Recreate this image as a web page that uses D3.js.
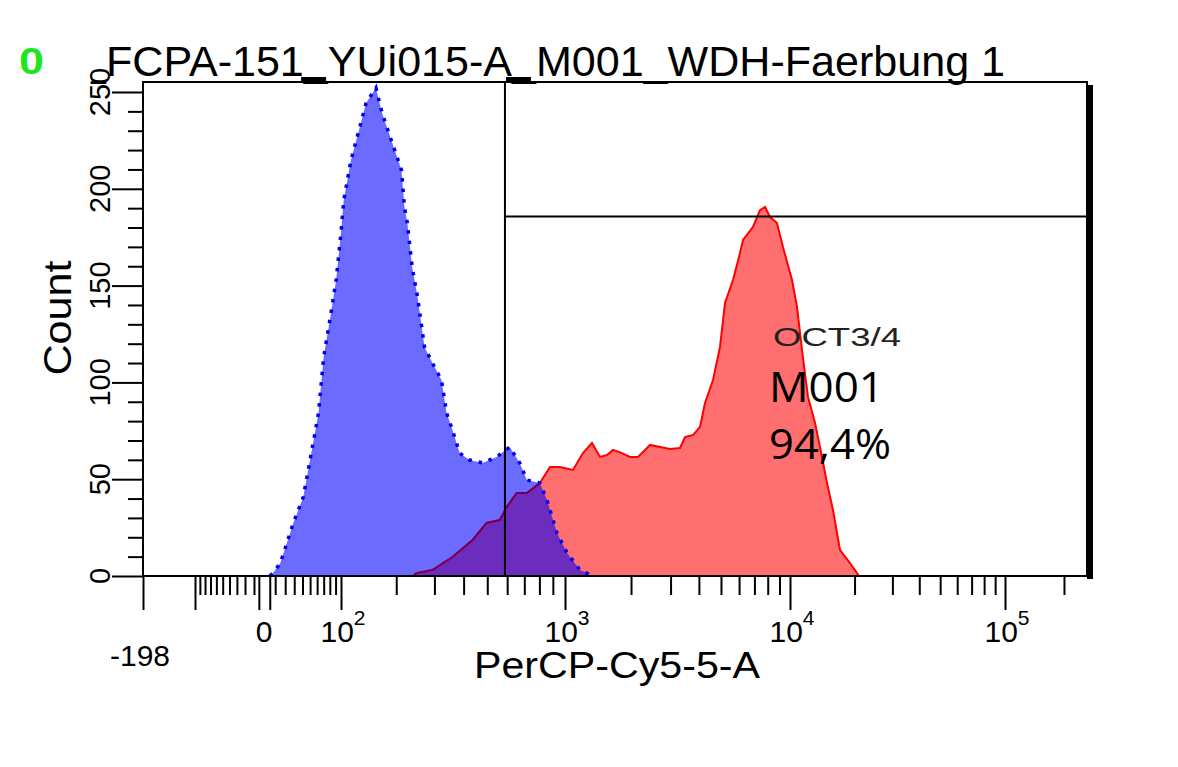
<!DOCTYPE html>
<html><head><meta charset="utf-8">
<script src="https://cdn.jsdelivr.net/npm/d3@7"></script>
<style>body{margin:0;background:#fff;} text{font-family:"Liberation Sans",Arial,sans-serif;}</style>
</head><body>
<svg id="c" width="1178" height="767"></svg>
<script>
// ---- data ----
const titlePrefix = "_";
const title = "FCPA-151_YUi015-A_M001_WDH-Faerbung 1";
const statusMark = "0";
const xLabel = "PerCP-Cy5-5-A";
const yLabel = "Count";
// unstained / isotype histogram (blue): fluorescence value, count
const blueX = [5, 8, 15, 29, 41, 55, 62, 70, 82, 91, 100, 104, 115, 128, 140, 158, 170, 189, 212, 219, 226, 238, 252, 271, 294, 322, 339, 359, 385, 423, 479, 545, 614, 672, 716, 803, 855, 933, 1022, 1173, 1264, 1300];
const blueY = [0, 1.5, 6.7, 27.4, 40.8, 70.2, 84.2, 113.1, 135.8, 152.9, 177.2, 194.2, 214.9, 230.4, 244.3, 252.1, 239.2, 225.2, 209.7, 190.6, 182.3, 159.6, 144.1, 118.3, 110, 101.2, 84.2, 75.4, 63.5, 59.9, 58.4, 61.5, 66.6, 58.4, 49.6, 48, 39.3, 22.2, 11.9, 3.1, 1.5, 0];
// OCT3/4 stained histogram (red)
const redX = [240, 249, 294, 359, 436, 497, 561, 598, 654, 716, 803, 878, 957, 1089, 1211, 1332, 1449, 1559, 1659, 1822, 1979, 2149, 2310, 2431, 2694, 2983, 3303, 3474, 3769, 4045, 4255, 4614, 4951, 5207, 5644, 6056, 6242, 6902, 7404, 7785, 8186, 8779, 9320, 10219, 10784, 11378, 12135, 13088, 14107, 14883, 15873, 17113, 19050, 20530, 21000];
const redY = [0, 1.5, 3.1, 9.8, 18.6, 27.4, 28.9, 35.6, 42.9, 42.9, 48, 56.3, 56.3, 54.8, 63.5, 68.7, 61.5, 62.5, 65.1, 63.5, 61.5, 61.5, 65.1, 67.7, 66.6, 65.6, 66.1, 71.8, 72.8, 77, 89.4, 101.2, 118.3, 141, 152.9, 166.8, 173.6, 180.3, 189, 190.6, 185.4, 182.3, 169.9, 152.9, 139, 116.7, 92.5, 79, 61.5, 48, 34.1, 13.4, 6.7, 1.5, 0];
// axes
const yTickValues = [0, 50, 100, 150, 200, 250];
const yMinorValues = d3.range(0, 251, 10);
const xDomainEnds = [-198, 262144];
const xLongTicks = [-198, -100, -5, 5, 100, 1000, 10000, 100000];
const xDecades = [100, 1000, 10000, 100000];
const xDecadeExp = ["2", "3", "4", "5"];
const xPlainLabels = [{v: -198, t: "-198"}, {v: 0, t: "0"}];
// marker M001
const gateFrom = 588, gateTo = 262144, gateCount = 185.7;
const handleValues = [37, 588];
const markerLines = ["OCT3/4", "M001", "94,4%"];

// ---- scales ----
const svg = d3.select("#c");
const F = {left: 143, top: 82, right: 1087, bottom: 576};
const sym = d3.scaleSymlog().constant(80).domain([0, 80 * (Math.E - 1)]).range([0, 1]);
const xAnchors = [xDomainEnds[0], -100, 0, 100, 1000, 10000, 100000, xDomainEnds[1]];
const xLin = d3.scaleLinear().domain(xAnchors.map(v => sym(v))).range([143, 195, 264, 341, 565, 790, 1005, 1087]);
const x = v => xLin(sym(v));
const y = d3.scaleLinear().domain([0, 250]).range([576, 92]);

const blue = blueX.map((v, i) => [v, blueY[i]]);
const red = redX.map((v, i) => [v, redY[i]]);
const area = d3.area().x(d => x(d[0])).y0(y(0)).y1(d => y(d[1]));
const line = d3.line().x(d => x(d[0])).y(d => y(d[1]));

const defs = svg.append("defs");
defs.append("clipPath").attr("id", "blueClip").append("path").attr("d", area(blue));
defs.append("clipPath").attr("id", "frameClip").append("rect")
  .attr("x", F.left).attr("y", F.top).attr("width", F.right - F.left).attr("height", F.bottom - F.top);

const plot = svg.append("g").attr("clip-path", "url(#frameClip)");
plot.append("path").attr("d", area(blue)).attr("fill", "#6b6bff");
plot.append("path").attr("d", area(red)).attr("fill", "#ff6f6f");
plot.append("path").attr("d", area(red)).attr("fill", "#6c2dbf").attr("clip-path", "url(#blueClip)");
plot.append("path").attr("d", line(red)).attr("fill", "none").attr("stroke", "#ff0000").attr("stroke-width", 2);
plot.append("path").attr("d", line(red)).attr("fill", "none").attr("stroke", "#6a006a").attr("stroke-width", 2).attr("clip-path", "url(#blueClip)");
plot.append("path").attr("d", line(blue)).attr("fill", "none").attr("stroke", "#0000ee")
  .attr("stroke-width", 3.5).attr("stroke-dasharray", "3.5,7");

// gate lines
svg.append("line").attr("x1", x(gateFrom)).attr("x2", x(gateFrom)).attr("y1", F.top).attr("y2", F.bottom)
  .attr("stroke", "#000").attr("stroke-width", 2);
svg.append("line").attr("x1", x(gateFrom)).attr("x2", x(gateTo)).attr("y1", y(gateCount)).attr("y2", y(gateCount))
  .attr("stroke", "#000").attr("stroke-width", 2);
svg.selectAll(".handle").data(handleValues).enter().append("rect")
  .attr("x", d => x(d) + 1).attr("y", F.top - 5).attr("width", 25).attr("height", 5).attr("fill", "#000");

// frame
svg.append("rect").attr("x", F.left).attr("y", F.top).attr("width", F.right - F.left).attr("height", F.bottom - F.top)
  .attr("fill", "none").attr("stroke", "#000").attr("stroke-width", 2);
svg.append("rect").attr("x", F.right).attr("y", F.top + 3).attr("width", 6).attr("height", F.bottom - F.top)
  .attr("fill", "#000");

// y axis
const yMinorG = svg.append("g").attr("transform", `translate(${F.left},0)`)
  .call(d3.axisLeft(y).tickValues(yMinorValues.filter(v => v % 50 !== 0)).tickSize(15).tickFormat(""));
const yMajorG = svg.append("g").attr("transform", `translate(${F.left},0)`)
  .call(d3.axisLeft(y).tickValues(yTickValues).tickSize(31).tickFormat(""));
[yMinorG, yMajorG].forEach(g => { g.select(".domain").remove(); g.selectAll("line").attr("stroke-width", 2); });
svg.selectAll(".ylab").data(yTickValues).enter().append("text")
  .attr("transform", d => `translate(110,${y(d)}) rotate(-90)`)
  .attr("text-anchor", "middle").attr("font-size", 29).attr("fill", "#000").text(d => d);
svg.append("text").attr("transform", "translate(71,318) rotate(-90)").attr("text-anchor", "middle")
  .attr("font-size", 38).attr("textLength", 115).attr("lengthAdjust", "spacingAndGlyphs").text(yLabel);

// x axis
const minorX = [];
[-1, 1].forEach(s => d3.range(10, 100, 10).forEach(v => minorX.push(s * v)));
xDecades.forEach(dv => d3.range(2, 10).forEach(m => { if (dv * m <= xDomainEnds[1]) minorX.push(dv * m); }));
const xMinorG = svg.append("g").attr("transform", `translate(0,${F.bottom})`)
  .call(d3.axisBottom(xLin).tickValues(minorX.map(v => sym(v))).tickSize(19).tickFormat(""));
const xMajorG = svg.append("g").attr("transform", `translate(0,${F.bottom})`)
  .call(d3.axisBottom(xLin).tickValues(xLongTicks.map(v => sym(v))).tickSize(34).tickFormat(""));
[xMinorG, xMajorG].forEach(g => { g.select(".domain").remove(); g.selectAll("line").attr("stroke-width", 2); });

svg.append("text").attr("x", x(xPlainLabels[0].v) - 3).attr("y", 666).attr("text-anchor", "middle")
  .attr("font-size", 30).text(xPlainLabels[0].t);
svg.append("text").attr("x", x(xPlainLabels[1].v)).attr("y", 642).attr("text-anchor", "middle")
  .attr("font-size", 30).text(xPlainLabels[1].t);
xDecades.forEach((dv, i) => {
  const t = svg.append("text").attr("x", x(dv) + 2).attr("y", 642).attr("text-anchor", "middle").attr("font-size", 30);
  t.append("tspan").text("10");
  t.append("tspan").attr("dy", -17).attr("font-size", 21).text(xDecadeExp[i]);
});
svg.append("text").attr("x", 617).attr("y", 678).attr("text-anchor", "middle").attr("font-size", 36)
  .attr("textLength", 286).attr("lengthAdjust", "spacingAndGlyphs").text(xLabel);

// title + status
const tt = svg.append("text").attr("y", 76).attr("font-size", 42);
tt.append("tspan").attr("x", 91).attr("textLength", 15).attr("lengthAdjust", "spacingAndGlyphs").text(titlePrefix);
tt.append("tspan").attr("x", 106).attr("textLength", 899).attr("lengthAdjust", "spacingAndGlyphs").text(title);
svg.append("text").attr("x", 19).attr("y", 74).attr("font-size", 36).attr("font-weight", "bold")
  .attr("fill", "#1ee61e").attr("textLength", 25).attr("lengthAdjust", "spacingAndGlyphs").text(statusMark);

// marker annotation
svg.append("text").attr("x", 773).attr("y", 346).attr("font-size", 25).attr("fill", "#222")
  .attr("textLength", 128).attr("lengthAdjust", "spacingAndGlyphs").text(markerLines[0]);
svg.append("text").attr("x", 769).attr("y", 402).attr("font-size", 42).style("font-family", "'Open Sans',sans-serif")
  .attr("textLength", 115).attr("lengthAdjust", "spacingAndGlyphs").text(markerLines[1]);
svg.append("text").attr("x", 769).attr("y", 459).attr("font-size", 42).style("font-family", "'Open Sans',sans-serif")
  .attr("textLength", 122).attr("lengthAdjust", "spacingAndGlyphs").text(markerLines[2]);
</script>
</body></html>
